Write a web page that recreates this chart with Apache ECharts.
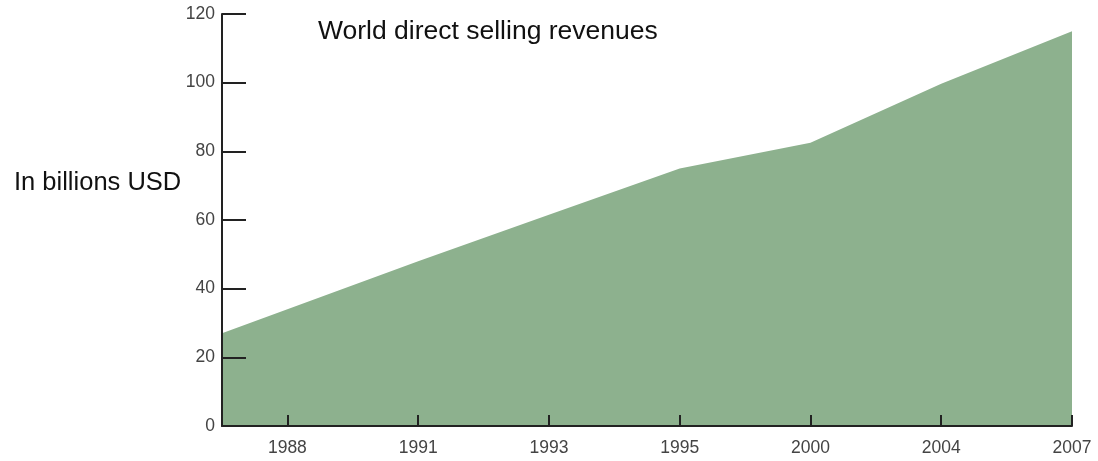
<!DOCTYPE html>
<html>
<head>
<meta charset="utf-8">
<script src="https://cdn.jsdelivr.net/npm/echarts@6/dist/echarts.min.js"></script>
<style>
  html, body { margin: 0; padding: 0; background: #fff; }
  #chart { width: 1098px; height: 461px; }
</style>
</head>
<body>
<div id="chart"></div>
<script>
// tick labels along the bottom
const years = ["1988", "1991", "1993", "1995", "2000", "2004", "2007"];
// x position of each point (category index, -0.5 = left edge of the plot)
const pointPos = [-0.5, 0, 1, 2, 3, 4, 5, 6];
// revenues in billions USD
const revenues = [27, 34, 48, 61.5, 75, 82.5, 99.7, 115];
const yTicks = [0, 20, 40, 60, 80, 100, 120];

const chart = echarts.init(document.getElementById("chart"));
const font = "'Liberation Sans', Arial, sans-serif";

chart.setOption({
  animation: false,
  title: [
    {
      text: "World direct selling revenues",
      left: 313,
      top: 13,
      textStyle: { fontFamily: font, fontSize: 26.5, fontWeight: "normal", color: "#111" }
    },
    {
      text: "In billions USD",
      left: 9,
      top: 165,
      textStyle: { fontFamily: font, fontSize: 25.5, fontWeight: "normal", color: "#111" }
    }
  ],
  grid: { left: 222, right: 26, top: 14, bottom: 35 },
  xAxis: {
    type: "value",
    min: -0.5,
    max: 6,
    z: 10,
    splitLine: { show: false },
    axisLine: { onZero: false, lineStyle: { color: "#222", width: 2 } },
    axisTick: {
      inside: true,
      length: 11,
      customValues: years.map((y, i) => i),
      lineStyle: { color: "#222", width: 2 }
    },
    axisLabel: {
      customValues: years.map((y, i) => i),
      formatter: (v) => years[Math.round(v)],
      fontFamily: font,
      fontSize: 17.5,
      color: "#444",
      margin: 13
    }
  },
  yAxis: {
    type: "value",
    min: 0,
    max: 120,
    interval: 20,
    z: 10,
    splitLine: { show: false },
    axisLine: { show: true, onZero: false, lineStyle: { color: "#222", width: 2 } },
    axisTick: { inside: true, length: 24, lineStyle: { color: "#222", width: 2 } },
    axisLabel: {
      fontFamily: font,
      fontSize: 17.5,
      color: "#444",
      margin: 7,
      formatter: (v) => (yTicks.includes(v) ? String(v) : "")
    }
  },
  series: [
    {
      type: "line",
      data: pointPos.map((x, i) => [x, revenues[i]]),
      showSymbol: false,
      lineStyle: { width: 0 },
      areaStyle: { color: "#8db18e", opacity: 1 },
      z: 1
    }
  ]
});
</script>
</body>
</html>
